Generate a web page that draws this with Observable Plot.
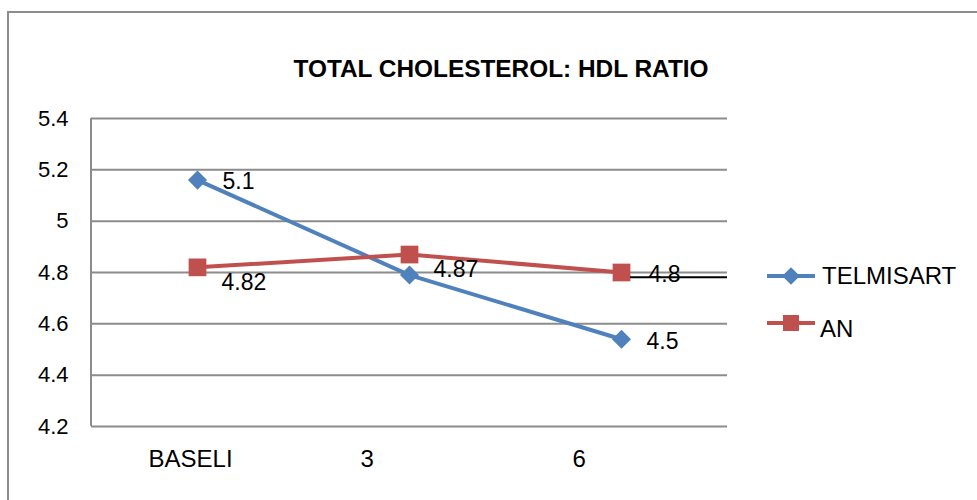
<!DOCTYPE html>
<html><head><meta charset="utf-8">
<script src="https://cdn.jsdelivr.net/npm/d3@7"></script>
<script src="https://cdn.jsdelivr.net/npm/@observablehq/plot@0.6"></script>
<style>
body{margin:0;background:#fff;font-family:"Liberation Sans",Arial,sans-serif;}
#wrap{position:relative;width:977px;height:500px;overflow:hidden;background:#fff;}
#chart{position:absolute;left:0;top:0;}
#frame{position:absolute;left:7px;top:11px;width:1000px;height:600px;border-left:2px solid #8c8c8c;border-top:2px solid #8c8c8c;pointer-events:none;}
#title{position:absolute;left:0;width:1002px;top:57px;line-height:24px;text-align:center;font-weight:bold;font-size:24.4px;color:#000;}
#legend{position:absolute;left:760px;top:250px;}
</style>
</head><body>
<div id="wrap">
  <div id="chart"></div>
  <div id="frame"></div>
  <div id="title">TOTAL CHOLESTEROL: HDL RATIO</div>
  <div id="legend"></div>
</div>
<script>
const categories = ["BASELI", "3", "6"];
const telmisart = [5.16, 4.79, 4.54];
const an = [4.82, 4.87, 4.80];
const telmisartLabels = ["5.1", "", "4.5"];
const anLabels = ["4.82", "4.87", "4.8"];
const yTicks = [4.2, 4.4, 4.6, 4.8, 5.0, 5.2, 5.4];
const seriesNames = ["TELMISART", "AN"];
const seriesColors = ["#4F81BD", "#C0504D"];
const strayLineValue = 4.78;

const telRows = categories.map((c, i) => ({cat: c, v: telmisart[i], label: telmisartLabels[i]}));
const anRows = categories.map((c, i) => ({cat: c, v: an[i], label: anLabels[i]}));

const FONT = "Liberation Sans, Arial, sans-serif";

const leftLine = (index, scales, values, dims) => {
  const g = d3.create("svg:g");
  g.append("line")
    .attr("x1", dims.marginLeft).attr("x2", dims.marginLeft)
    .attr("y1", scales.y(yTicks[yTicks.length - 1])).attr("y2", scales.y(yTicks[0]))
    .attr("stroke", "#8c8c8c").attr("stroke-width", 2);
  return g.node();
};
const strayLine = (index, scales, values, dims) => {
  const g = d3.create("svg:g");
  g.append("line")
    .attr("x1", scales.x(categories[2]) + 9).attr("x2", dims.width - dims.marginRight)
    .attr("y1", scales.y(strayLineValue)).attr("y2", scales.y(strayLineValue))
    .attr("stroke", "#000").attr("stroke-width", 2);
  return g.node();
};

const plot = Plot.plot({
  width: 977,
  height: 500,
  marginLeft: 91,
  marginRight: 250,
  marginTop: 118,
  marginBottom: 74,
  style: {background: "transparent", fontFamily: FONT, fontSize: "22px", color: "#000", overflow: "visible"},
  x: {type: "point", domain: categories, padding: 0.5, label: null, axis: null},
  y: {domain: [4.2, 5.4], ticks: yTicks, tickFormat: d => String(+d.toFixed(1)), label: null, tickSize: 0, tickPadding: 23},
  marks: [
    Plot.ruleY(yTicks, {stroke: "#8c8c8c", strokeWidth: 2, strokeOpacity: 1}),
    leftLine,
    Plot.line(telRows, {x: "cat", y: "v", stroke: seriesColors[0], strokeWidth: 4}),
    Plot.dot(telRows, {x: "cat", y: "v", symbol: "diamond2", r: 8.6, fill: seriesColors[0], stroke: "none"}),
    Plot.line(anRows, {x: "cat", y: "v", stroke: seriesColors[1], strokeWidth: 4}),
    Plot.dot(anRows, {x: "cat", y: "v", symbol: "square", r: 10, fill: seriesColors[1], stroke: "none"}),
    strayLine,
    Plot.text(telRows.filter(d => d.label), {x: "cat", y: "v", text: "label", dx: 25, dy: 2, textAnchor: "start", fontSize: 23, fill: "#000"}),
    Plot.text(anRows.slice(0, 2), {x: "cat", y: "v", text: "label", dx: 24, dy: 15, textAnchor: "start", fontSize: 23, fill: "#000"}),
    Plot.text(anRows.slice(2), {x: "cat", y: "v", text: "label", dx: 27, dy: 2, textAnchor: "start", fontSize: 23, fill: "#000"}),
    Plot.text(categories, {x: d => d, frameAnchor: "bottom", text: d => d, textAnchor: "start", dx: -49, dy: 40, fontSize: 24, fill: "#000"})
  ]
});
d3.select(plot).selectAll("[aria-label^='y-axis'] text").attr("fill", "#000");
document.getElementById("chart").appendChild(plot);

// Legend
const lg = d3.select("#legend").append("svg").attr("width", 217).attr("height", 100);
const rowsY = [26, 73];
const textY = [34, 87];
seriesNames.forEach((name, i) => {
  const y = rowsY[i];
  lg.append("line").attr("x1", 7).attr("x2", 55).attr("y1", y).attr("y2", y)
    .attr("stroke", seriesColors[i]).attr("stroke-width", 4);
  if (i === 0) {
    lg.append("path").attr("d", d3.symbol(d3.symbolDiamond2, 200)()).attr("transform", `translate(31,${y})`).attr("fill", seriesColors[i]);
  } else {
    lg.append("rect").attr("x", 23).attr("y", y - 8).attr("width", 16).attr("height", 16).attr("fill", seriesColors[i]);
  }
  lg.append("text").attr("x", i === 0 ? 62 : 60).attr("y", textY[i]).attr("font-size", 24)
    .attr("font-family", FONT).attr("fill", "#000").text(name);
});
</script>
</body></html>
